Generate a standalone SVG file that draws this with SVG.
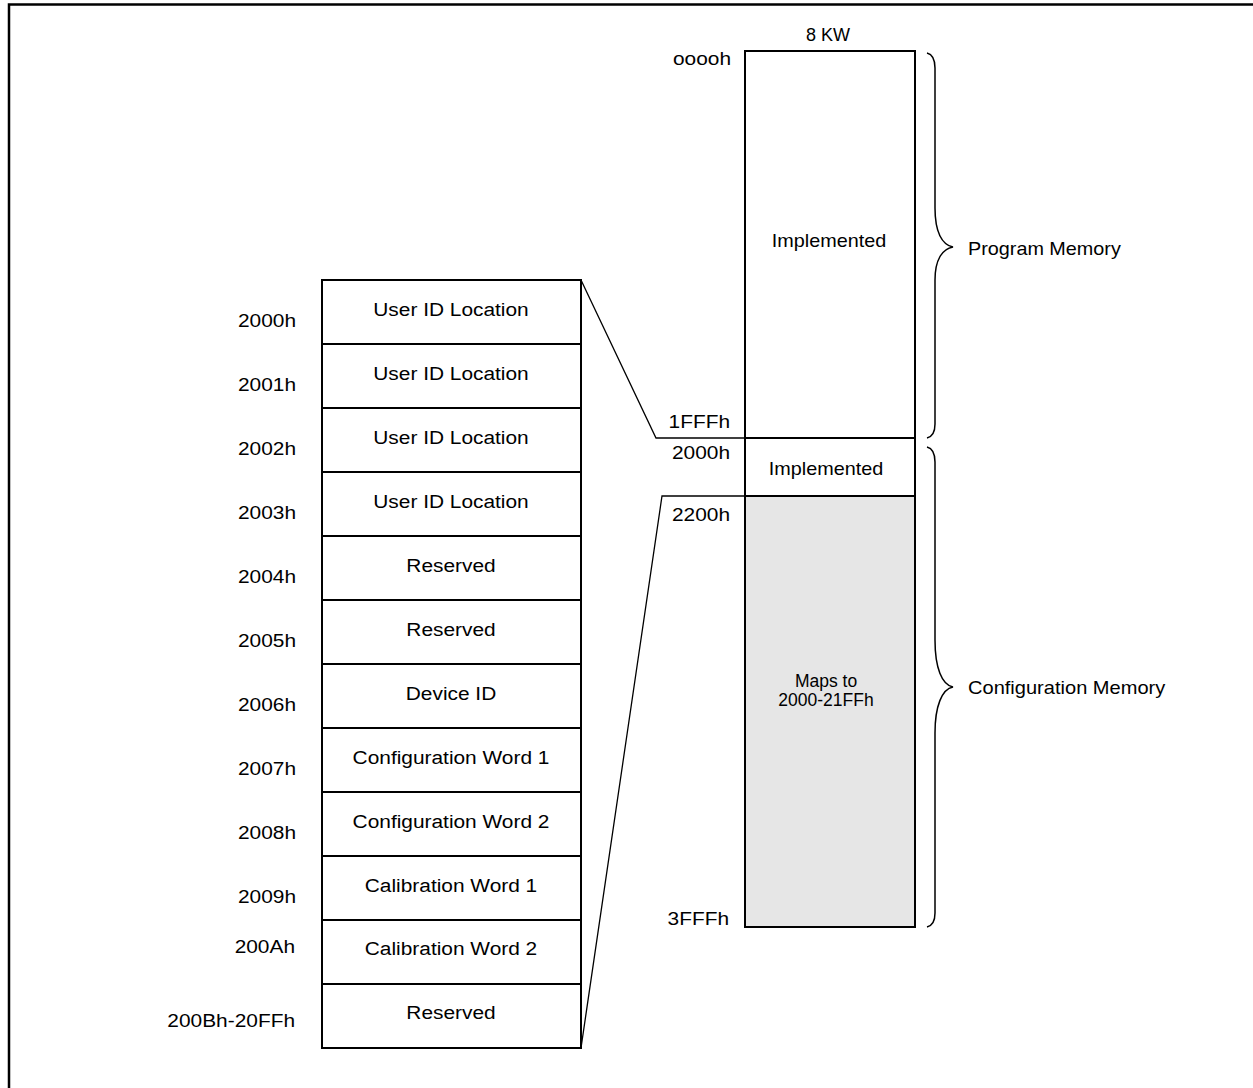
<svg xmlns="http://www.w3.org/2000/svg" width="1253" height="1088" viewBox="0 0 1253 1088">
<style>
.t{font-family:"Liberation Sans",Arial,sans-serif;font-size:18px;fill:#000}
.m{text-anchor:middle}
.e{text-anchor:end}
.box{fill:#fff;stroke:#000;stroke-width:2}
.grey{fill:#e6e6e6;stroke:#000;stroke-width:2}
.ln{fill:none;stroke:#000;stroke-width:1.3}
.br{fill:none;stroke:#000;stroke-width:1.5}
</style>
<rect width="1253" height="1088" fill="#fff"/>
<path d="M9,1088 L9,4.5 L1253,4.5" fill="none" stroke="#000" stroke-width="2.5"/>

<g id="connectors">
<polyline class="ln" points="581,280 656,438 745,438"/>
<polyline class="ln" points="581,1048 662,496 745,496"/>
</g>

<g id="program-memory">
<rect class="box" x="745" y="51" width="170" height="387"/>
<text class="t m" x="828" y="41">8 KW</text>
<text class="t m" transform="translate(829,247) scale(1.1,1)">Implemented</text>
<text class="t e" transform="translate(731,65) scale(1.16,1)">ooooh</text>
<text class="t e" transform="translate(730,428) scale(1.16,1)">1FFFh</text>
</g>

<g id="config-implemented">
<rect class="box" x="745" y="438" width="170" height="58"/>
<text class="t m" transform="translate(826,475) scale(1.1,1)">Implemented</text>
<text class="t e" transform="translate(730,459) scale(1.16,1)">2000h</text>
</g>

<g id="config-mapped">
<rect class="grey" x="745" y="496" width="170" height="431"/>
<text class="t m" style="font-size:17.5px" x="826" y="687">Maps to</text>
<text class="t m" style="font-size:17.5px" x="826" y="706">2000-21FFh</text>
<text class="t e" transform="translate(730,521) scale(1.16,1)">2200h</text>
<text class="t e" transform="translate(729,925) scale(1.16,1)">3FFFh</text>
</g>

<g id="brace-program">
<path class="br" d="M927,53 Q935,55 935,68 L935,208 C935,232 942,245 953,247 C942,249 935,260 935,280 L935,424 Q935,436 927,438"/>
<text class="t" transform="translate(968,255) scale(1.1,1)">Program Memory</text>
</g>

<g id="brace-config">
<path class="br" d="M927,447 Q935,449 935,462 L935,640 C935,668 942,685 953,687 C942,689 935,706 935,733 L935,913 Q935,925 927,927"/>
<text class="t" transform="translate(968,694) scale(1.115,1)">Configuration Memory</text>
</g>

<g id="row-2000h">
<rect class="box" x="322" y="280" width="259" height="64"/>
<text class="t m" transform="translate(451,316) scale(1.16,1)">User ID Location</text>
<text class="t e" transform="translate(296,327) scale(1.16,1)">2000h</text>
</g>
<g id="row-2001h">
<rect class="box" x="322" y="344" width="259" height="64"/>
<text class="t m" transform="translate(451,380) scale(1.16,1)">User ID Location</text>
<text class="t e" transform="translate(296,391) scale(1.16,1)">2001h</text>
</g>
<g id="row-2002h">
<rect class="box" x="322" y="408" width="259" height="64"/>
<text class="t m" transform="translate(451,444) scale(1.16,1)">User ID Location</text>
<text class="t e" transform="translate(296,455) scale(1.16,1)">2002h</text>
</g>
<g id="row-2003h">
<rect class="box" x="322" y="472" width="259" height="64"/>
<text class="t m" transform="translate(451,508) scale(1.16,1)">User ID Location</text>
<text class="t e" transform="translate(296,519) scale(1.16,1)">2003h</text>
</g>
<g id="row-2004h">
<rect class="box" x="322" y="536" width="259" height="64"/>
<text class="t m" transform="translate(451,572) scale(1.16,1)">Reserved</text>
<text class="t e" transform="translate(296,583) scale(1.16,1)">2004h</text>
</g>
<g id="row-2005h">
<rect class="box" x="322" y="600" width="259" height="64"/>
<text class="t m" transform="translate(451,636) scale(1.16,1)">Reserved</text>
<text class="t e" transform="translate(296,647) scale(1.16,1)">2005h</text>
</g>
<g id="row-2006h">
<rect class="box" x="322" y="664" width="259" height="64"/>
<text class="t m" transform="translate(451,700) scale(1.16,1)">Device ID</text>
<text class="t e" transform="translate(296,711) scale(1.16,1)">2006h</text>
</g>
<g id="row-2007h">
<rect class="box" x="322" y="728" width="259" height="64"/>
<text class="t m" transform="translate(451,764) scale(1.16,1)">Configuration Word 1</text>
<text class="t e" transform="translate(296,775) scale(1.16,1)">2007h</text>
</g>
<g id="row-2008h">
<rect class="box" x="322" y="792" width="259" height="64"/>
<text class="t m" transform="translate(451,828) scale(1.16,1)">Configuration Word 2</text>
<text class="t e" transform="translate(296,839) scale(1.16,1)">2008h</text>
</g>
<g id="row-2009h">
<rect class="box" x="322" y="856" width="259" height="64"/>
<text class="t m" transform="translate(451,892) scale(1.16,1)">Calibration Word 1</text>
<text class="t e" transform="translate(296,903) scale(1.16,1)">2009h</text>
</g>
<g id="row-200Ah">
<rect class="box" x="322" y="920" width="259" height="64"/>
<text class="t m" transform="translate(451,955) scale(1.16,1)">Calibration Word 2</text>
<text class="t e" transform="translate(295,953) scale(1.16,1)">200Ah</text>
</g>
<g id="row-200Bh">
<rect class="box" x="322" y="984" width="259" height="64"/>
<text class="t m" transform="translate(451,1019) scale(1.16,1)">Reserved</text>
<text class="t e" transform="translate(295,1027) scale(1.16,1)">200Bh-20FFh</text>
</g>
</svg>
